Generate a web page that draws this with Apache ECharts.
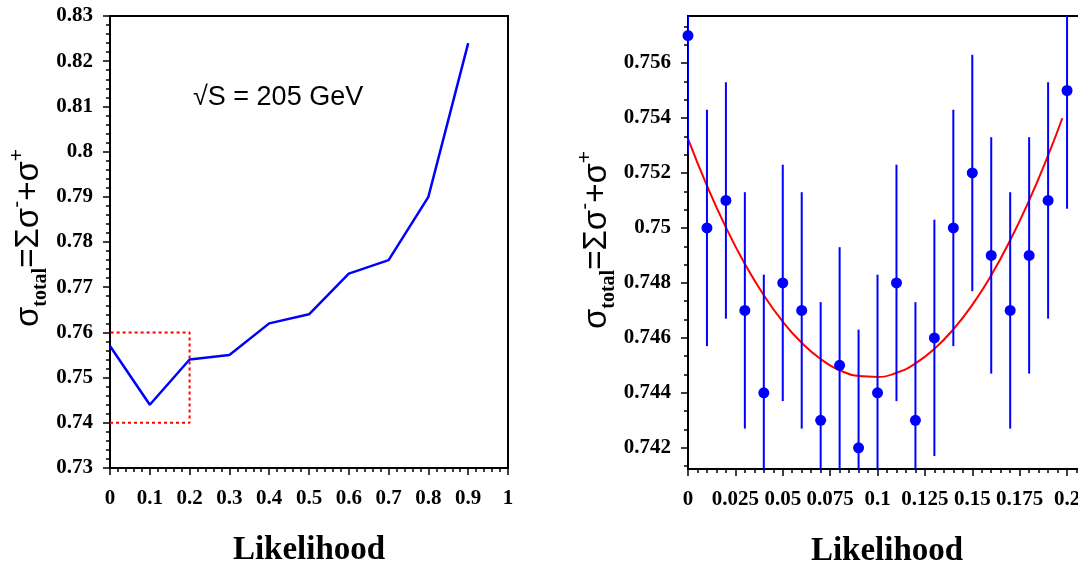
<!DOCTYPE html>
<html><head><meta charset="utf-8">
<script src="https://cdn.jsdelivr.net/npm/echarts@6/dist/echarts.min.js"></script>
<style>html,body{margin:0;padding:0;background:#fff}#c{width:1078px;height:570px}</style>
</head><body><div id="c"></div>
<script>
// ---- Left panel data ----
const leftX = [0, 0.1, 0.2, 0.3, 0.4, 0.5, 0.6, 0.7, 0.8, 0.9];
const leftY = [0.757, 0.744, 0.754, 0.755, 0.762, 0.764, 0.773, 0.776, 0.790, 0.824];
const zoomBoxX = [0, 0.2, 0.2, 0];
const zoomBoxY = [0.74, 0.74, 0.76, 0.76];
// ---- Right panel data ----
const rightX = [0, 0.01, 0.02, 0.03, 0.04, 0.05, 0.06, 0.07, 0.08, 0.09, 0.10,
                0.11, 0.12, 0.13, 0.14, 0.15, 0.16, 0.17, 0.18, 0.19, 0.20];
const rightY = [0.757, 0.750, 0.751, 0.747, 0.744, 0.748, 0.747, 0.743, 0.745, 0.742, 0.744,
                0.748, 0.743, 0.746, 0.750, 0.752, 0.749, 0.747, 0.749, 0.751, 0.755];
const rightErr = [0.0043, 0.0043, 0.0043, 0.0043, 0.0043, 0.0043, 0.0043, 0.0043, 0.0043, 0.0043, 0.0043,
                  0.0043, 0.0043, 0.0043, 0.0043, 0.0043, 0.0043, 0.0043, 0.0043, 0.0043, 0.0043];
const fitX = [0, 0.01, 0.02, 0.03, 0.04, 0.05, 0.06, 0.07, 0.08, 0.09, 0.10,
              0.11, 0.12, 0.13, 0.14, 0.15, 0.16, 0.17, 0.18, 0.19, 0.1975];
const fitY = [0.75324, 0.75154, 0.75002, 0.74869, 0.74755, 0.74659, 0.74582, 0.74523, 0.74483, 0.74461, 0.74458,
              0.74473, 0.74507, 0.74560, 0.74631, 0.74720, 0.74828, 0.74955, 0.75100, 0.75264, 0.75399];
// ---- Tick values ----
const rightYMajor = [0.742, 0.744, 0.746, 0.748, 0.75, 0.752, 0.754, 0.756];
const rightYMinor = [0.741333, 0.742667, 0.743333, 0.744667, 0.745333, 0.746667, 0.747333, 0.748667,
                     0.749333, 0.750667, 0.751333, 0.752667, 0.753333, 0.754667, 0.755333, 0.756667, 0.757333];
const xTitle = 'Likelihood';
const energyText = '\u221AS = 205 GeV';

const tickFont = {color:'#000', fontFamily:'Liberation Serif', fontWeight:'bold', fontSize:21};
const axisLine = {show:true, lineStyle:{color:'#000', width:2}};
const majTick = {show:true, inside:false, length:7, lineStyle:{color:'#000', width:1.5}};
const minTick = {show:true, splitNumber:5, length:4, lineStyle:{color:'#000', width:1.5}};
const nameStyle = {color:'#000', fontFamily:'Liberation Serif', fontWeight:'bold', fontSize:33};

const yLabelRich = {
  s:{fontFamily:'Liberation Sans', fontSize:33, lineHeight:44, verticalAlign:'middle', fill:'#000', color:'#000'},
  sub:{fontFamily:'Liberation Serif', fontWeight:'bold', fontSize:20, lineHeight:20, verticalAlign:'bottom', fill:'#000', color:'#000'},
  sup:{fontFamily:'Liberation Sans', fontSize:21, lineHeight:21, verticalAlign:'top', fill:'#000', color:'#000'}
};
const yLabelText = '{s|\u03C3}{sub|total}{s|=\u03A3\u03C3}{sup|-}{s|+\u03C3}{sup|+}';

const chart = echarts.init(document.getElementById('c'), null, {renderer:'canvas'});
chart.setOption({
  animation:false,
  backgroundColor:'#fff',
  grid:[
    {left:110, top:16, width:398, height:452, outerBoundsMode:'none', containLabel:false,
     show:true, borderColor:'#000', borderWidth:2, backgroundColor:'transparent'},
    {left:688, top:16, width:398, height:453, outerBoundsMode:'none', containLabel:false,
     show:true, borderColor:'#000', borderWidth:2, backgroundColor:'transparent'}
  ],
  xAxis:[
    {type:'value', gridIndex:0, min:0, max:1, interval:0.1, axisLine, axisTick:majTick, minorTick:minTick,
     splitLine:{show:false}, axisLabel:{...tickFont, margin:20},
     name:xTitle, nameLocation:'middle', nameGap:66, nameTextStyle:nameStyle},
    {type:'value', gridIndex:1, min:0, max:0.21, interval:0.025, axisLine, axisTick:majTick, minorTick:minTick,
     splitLine:{show:false}, axisLabel:{...tickFont, margin:20, showMaxLabel:false},
     name:xTitle, nameLocation:'middle', nameGap:66, nameTextStyle:nameStyle}
  ],
  yAxis:[
    {type:'value', gridIndex:0, min:0.73, max:0.83, interval:0.01, axisLine, axisTick:majTick, minorTick:minTick,
     splitLine:{show:false}, axisLabel:{...tickFont, margin:17}},
    {type:'value', gridIndex:1, position:'left', min:0.74123, max:0.75771, axisLine,
     axisTick:{...majTick, customValues:rightYMajor}, splitLine:{show:false},
     axisLabel:{...tickFont, margin:17, customValues:rightYMajor, formatter:v=>String(v)}},
    {type:'value', gridIndex:1, position:'left', min:0.74123, max:0.75771, axisLine:{show:false},
     axisTick:{show:true, length:4, lineStyle:{color:'#000', width:1.5}, customValues:rightYMinor},
     splitLine:{show:false}, axisLabel:{show:false, customValues:rightYMinor}}
  ],
  series:[
    {type:'line', xAxisIndex:0, yAxisIndex:0, data:zoomBoxX.map((x,i)=>[x, zoomBoxY[i]]), showSymbol:false,
     lineStyle:{color:'#ff0000', width:2, type:[3,3]}, z:2},
    {type:'line', xAxisIndex:0, yAxisIndex:0, data:leftX.map((x,i)=>[x, leftY[i]]), showSymbol:false,
     lineStyle:{color:'#0000ff', width:2.5}, z:3},
    {type:'line', xAxisIndex:1, yAxisIndex:1, data:fitX.map((x,i)=>[x, fitY[i]]), showSymbol:false, smooth:true,
     lineStyle:{color:'#ff0000', width:2}, z:2},
    {type:'custom', xAxisIndex:1, yAxisIndex:1, clip:true, z:3,
     data:rightX.map((x,i)=>[x, rightY[i]-rightErr[i], rightY[i]+rightErr[i]]),
     renderItem:(params, api)=>{
       const lo = api.coord([api.value(0), api.value(1)]);
       const hi = api.coord([api.value(0), api.value(2)]);
       return {type:'line', shape:{x1:lo[0], y1:lo[1], x2:hi[0], y2:hi[1]}, style:{stroke:'#0000ff', lineWidth:2}};
     }},
    {type:'scatter', xAxisIndex:1, yAxisIndex:1, data:rightX.map((x,i)=>[x, rightY[i]]), symbol:'circle',
     symbolSize:11, itemStyle:{color:'#0000ff', opacity:1}, z:4, clip:true}
  ],
  graphic:[
    {type:'text', left:193, top:84, style:{text:energyText, fontFamily:'Liberation Sans', fontSize:27, fill:'#000'}},
    {type:'text', x:29, y:238, rotation:Math.PI/2,
     style:{text:yLabelText, rich:yLabelRich, align:'center', verticalAlign:'middle', x:0, y:0}},
    {type:'text', x:597, y:240, rotation:Math.PI/2,
     style:{text:yLabelText, rich:yLabelRich, align:'center', verticalAlign:'middle', x:0, y:0}}
  ]
});
</script></body></html>
